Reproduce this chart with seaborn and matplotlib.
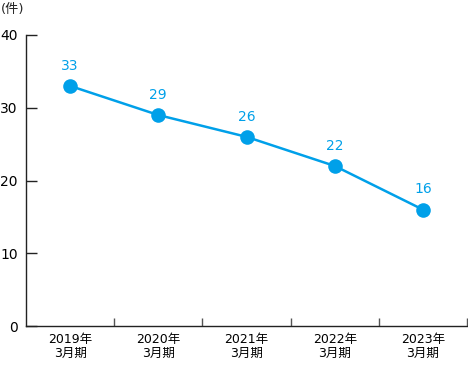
import numpy as np
import matplotlib.pyplot as plt
import seaborn as sns
import pandas as pd
from matplotlib.ticker import FixedLocator

periods = ['2019年\n3月期', '2020年\n3月期', '2021年\n3月期', '2022年\n3月期', '2023年\n3月期']
counts = [33, 29, 26, 22, 16]
y_ticks = [0, 10, 20, 30, 40]


def main():
    sns.set_style('white')
    plt.rcParams['font.family'] = ['DejaVu Sans', 'Noto Sans CJK JP']
    color = '#00a0e9'

    df = pd.DataFrame({'x': np.arange(len(periods)), 'count': counts})

    fig = plt.figure(figsize=(4.68, 3.65), dpi=100)
    ax = fig.add_axes([26 / 468, 1 - 326 / 365, 441 / 468, 291 / 365])
    sns.lineplot(data=df, x='x', y='count', color=color, linewidth=1.8,
                 marker='o', markersize=10.5, markeredgewidth=0, ax=ax)

    for xi, c in zip(df['x'], df['count']):
        ax.annotate(str(c), (xi, c), xytext=(0, 9.5), textcoords='offset points',
                    ha='center', va='bottom', color=color, fontsize=10)

    ax.set_xlim(-0.5, len(periods) - 0.5)
    ax.set_ylim(0, 40)
    ax.set_yticks(y_ticks)
    ax.set_xticks(df['x'])
    ax.set_xticklabels(periods, linespacing=1.05)
    ax.xaxis.set_minor_locator(FixedLocator(np.arange(0.5, len(periods), 1.0)))
    ax.tick_params(axis='x', which='major', bottom=True, length=0, pad=5, labelsize=9, labelcolor='black')
    ax.tick_params(axis='x', which='minor', bottom=True, direction='in', length=6, width=1, color='#555555')
    ax.tick_params(axis='y', left=True, direction='in', length=8, width=1, color='#222222', pad=6,
                   labelsize=10, labelcolor='black')
    ax.set_xlabel('')
    ax.set_ylabel('')

    for side in ['top', 'right']:
        ax.spines[side].set_visible(False)
    for side in ['left', 'bottom']:
        ax.spines[side].set_color('#222222')
        ax.spines[side].set_linewidth(1)

    fig.text(1 / 468, 1 - 3 / 365, '(件)', ha='left', va='top', fontsize=9.5)

    fig.savefig('out.png', dpi=100)


if __name__ == '__main__':
    main()
